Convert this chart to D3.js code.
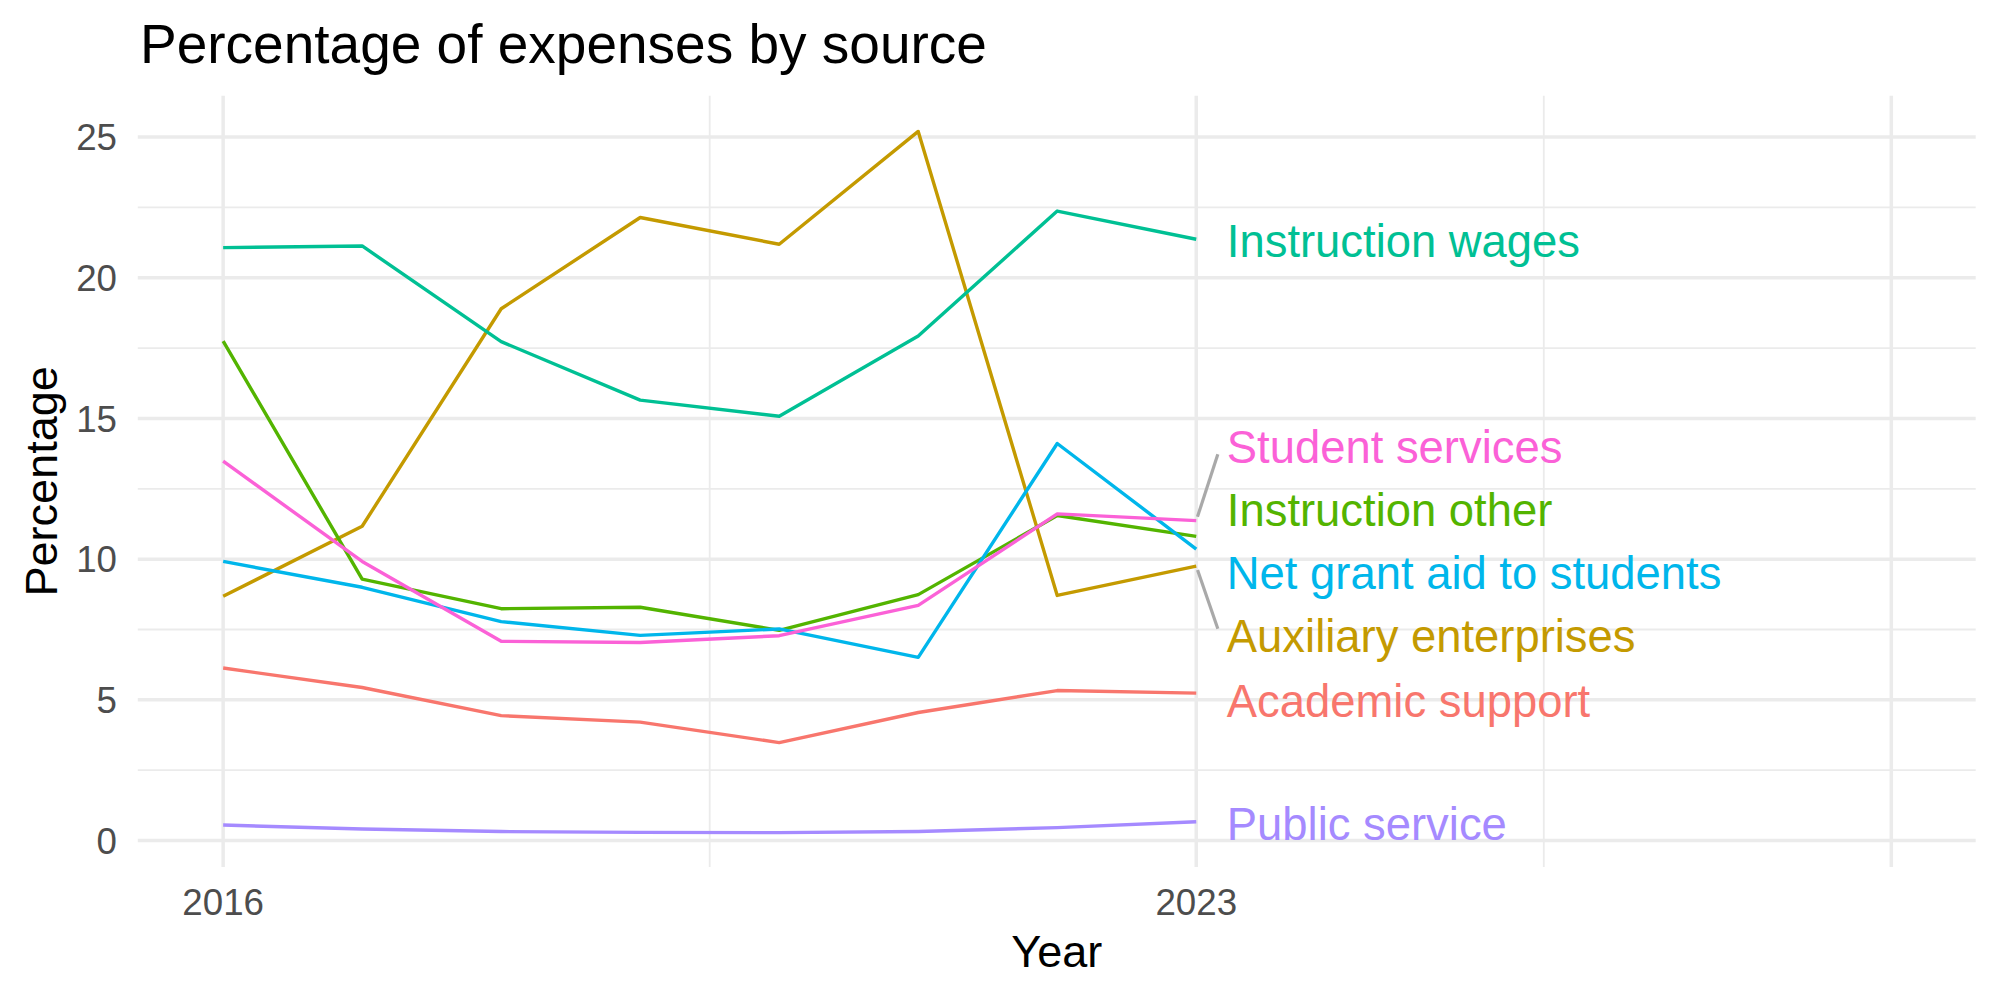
<!DOCTYPE html>
<html>
<head>
<meta charset="utf-8">
<script src="https://cdn.jsdelivr.net/npm/d3@7"></script>
<style>
  html, body { margin: 0; padding: 0; background: #ffffff; }
  svg { display: block; font-family: "Liberation Sans", Arial, Helvetica, sans-serif; }
</style>
</head>
<body>
<svg id="chart" width="2000" height="1000"></svg>
<script>
// ---------- DATA ----------
const years = [2016, 2017, 2018, 2019, 2020, 2021, 2022, 2023];
const seriesNames = ["Academic support", "Auxiliary enterprises", "Instruction other",
  "Instruction wages", "Net grant aid to students", "Public service", "Student services"];
const academicSupport      = [6.13, 5.44, 4.44, 4.21, 3.48, 4.55, 5.33, 5.24];
const auxiliaryEnterprises = [8.68, 11.17, 18.90, 22.14, 21.19, 25.20, 8.71, 9.75];
const instructionOther     = [17.75, 9.29, 8.24, 8.29, 7.47, 8.74, 11.55, 10.81];
const instructionWages     = [21.07, 21.13, 17.73, 15.65, 15.08, 17.93, 22.37, 21.37];
const netGrantAid          = [9.92, 9.00, 7.78, 7.29, 7.52, 6.51, 14.11, 10.36];
const publicService        = [0.55, 0.41, 0.32, 0.29, 0.28, 0.32, 0.46, 0.67];
const studentServices      = [13.48, 9.92, 7.08, 7.04, 7.28, 8.36, 11.61, 11.37];
const seriesValues = [academicSupport, auxiliaryEnterprises, instructionOther,
  instructionWages, netGrantAid, publicService, studentServices];
// repelled label positions (data units)
const labelYear = 2023.22;
const labelValues = [4.97, 7.28, 11.76, 21.33, 9.52, 0.60, 13.98];
const seriesColors = ["#F8766D", "#C49A00", "#53B400", "#00C094", "#00B6EB", "#A58AFF", "#FB61D7"];
const yTicks = [0, 5, 10, 15, 20, 25];
const yMinor = [2.5, 7.5, 12.5, 17.5, 22.5];
const xMajor = [2016, 2023, 2028];
const xMinor = [2019.5, 2025.5];
const xTickLabels = [2016, 2023];
const titleText = "Percentage of expenses by source";
const xTitle = "Year";
const yTitle = "Percentage";

// ---------- LAYOUT ----------
const panel = { left: 137.8, right: 1975.7, top: 95.7, bottom: 867 };
const svg = d3.select("#chart");
const x = d3.scaleLinear().domain([2015.386, 2028.607]).range([panel.left, panel.right]);
const y = d3.scaleLinear().domain([-0.94, 26.47]).range([panel.bottom, panel.top]);
const gridColor = "#EBEBEB";

const grid = svg.append("g");
grid.selectAll("line.ymin").data(yMinor).join("line")
  .attr("x1", panel.left).attr("x2", panel.right)
  .attr("y1", d => y(d)).attr("y2", d => y(d))
  .attr("stroke", gridColor).attr("stroke-width", 1.8);
grid.selectAll("line.xmin").data(xMinor).join("line")
  .attr("y1", panel.top).attr("y2", panel.bottom)
  .attr("x1", d => x(d)).attr("x2", d => x(d))
  .attr("stroke", gridColor).attr("stroke-width", 1.8);
grid.selectAll("line.ymaj").data(yTicks).join("line")
  .attr("x1", panel.left).attr("x2", panel.right)
  .attr("y1", d => y(d)).attr("y2", d => y(d))
  .attr("stroke", gridColor).attr("stroke-width", 3.5);
grid.selectAll("line.xmaj").data(xMajor).join("line")
  .attr("y1", panel.top).attr("y2", panel.bottom)
  .attr("x1", d => x(d)).attr("x2", d => x(d))
  .attr("stroke", gridColor).attr("stroke-width", 3.5);

// ---------- LINES ----------
const series = seriesNames.map((name, i) => ({
  name, color: seriesColors[i], labelValue: labelValues[i],
  values: years.map((yr, j) => ({ year: yr, value: seriesValues[i][j] }))
}));
const line = d3.line().x(d => x(d.year)).y(d => y(d.value));
svg.append("g").selectAll("path").data(series).join("path")
  .attr("d", d => line(d.values))
  .attr("fill", "none")
  .attr("stroke", d => d.color)
  .attr("stroke-width", 3.4)
  .attr("stroke-linejoin", "round");

// ---------- LABEL SEGMENTS ----------
const segG = svg.append("g");
series.forEach(s => {
  const last = s.values[s.values.length - 1];
  const px = x(last.year), py = y(last.value);
  const lx = x(labelYear) - 9, lc = y(s.labelValue);
  const ey = lc + Math.max(-7, Math.min(7, py - lc));
  const dx = lx - px, dy = ey - py, len = Math.hypot(dx, dy);
  if (len > 40) {
    const pad = 4;
    segG.append("line")
      .attr("x1", px + dx / len * pad).attr("y1", py + dy / len * pad)
      .attr("x2", lx).attr("y2", ey)
      .attr("stroke", "#A9A9A9").attr("stroke-width", 3.2);
  }
});

// ---------- LABELS ----------
svg.append("g").selectAll("text").data(series).join("text")
  .attr("x", x(labelYear))
  .attr("y", d => y(d.labelValue))
  .attr("dy", "0.358em")
  .attr("font-size", 45.4)
  .attr("fill", d => d.color)
  .text(d => d.name);

// ---------- AXES TEXT ----------
svg.append("g").selectAll("text").data(yTicks).join("text")
  .attr("x", 117).attr("y", d => y(d)).attr("dy", "0.358em")
  .attr("text-anchor", "end").attr("font-size", 36.7).attr("fill", "#4D4D4D")
  .text(d => d);
svg.append("g").selectAll("text").data(xTickLabels).join("text")
  .attr("x", d => x(d)).attr("y", 915)
  .attr("text-anchor", "middle").attr("font-size", 36.7).attr("fill", "#4D4D4D")
  .text(d => d);

svg.append("text").attr("x", (panel.left + panel.right) / 2).attr("y", 967)
  .attr("text-anchor", "middle").attr("font-size", 45).attr("fill", "#000")
  .text(xTitle);
svg.append("text")
  .attr("transform", `translate(57,${(panel.top + panel.bottom) / 2}) rotate(-90)`)
  .attr("text-anchor", "middle").attr("font-size", 45).attr("fill", "#000")
  .text(yTitle);
svg.append("text").attr("x", 140).attr("y", 63)
  .attr("font-size", 55).attr("fill", "#000")
  .text(titleText);
</script>
</body>
</html>
